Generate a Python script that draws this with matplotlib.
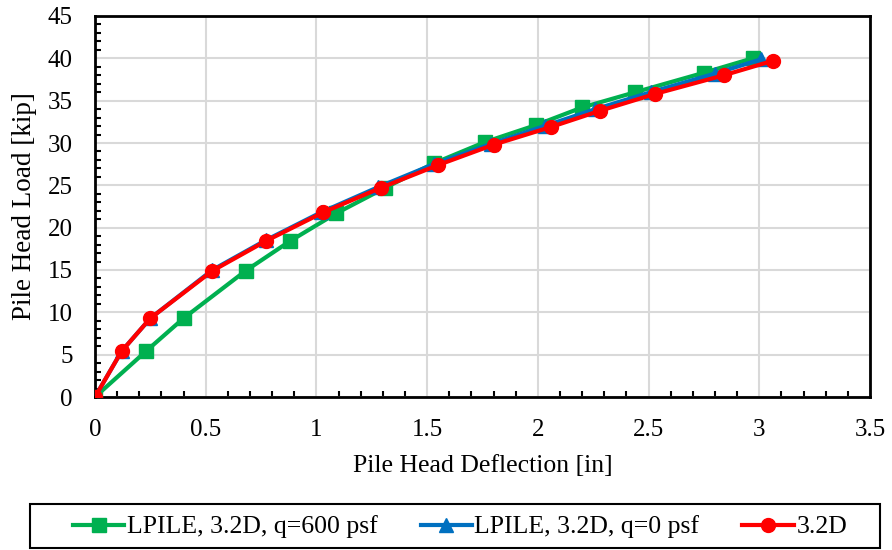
import matplotlib.pyplot as plt
from matplotlib.ticker import MultipleLocator
from matplotlib.patches import Rectangle

plt.rcParams['font.family'] = ['Liberation Serif', 'DejaVu Serif']

# LPILE, 3.2D, q=600 psf
defl_600 = [0, 0.23, 0.40, 0.68, 0.88, 1.09, 1.31, 1.53, 1.76, 1.99, 2.20, 2.44, 2.75, 2.97]
load_600 = [0, 5.4, 9.3, 14.9, 18.4, 21.7, 24.7, 27.6, 30.1, 32.1, 34.2, 36.0, 38.3, 40.0]
# LPILE, 3.2D, q=0 psf
defl_0 = [0, 0.12, 0.25, 0.53, 0.77, 1.02, 1.28, 1.53, 1.79, 2.03, 2.26, 2.51, 2.80, 3.01]
load_0 = [0, 5.4, 9.3, 15.0, 18.5, 21.8, 24.8, 27.5, 29.9, 32.0, 34.0, 36.0, 38.2, 39.9]
# 3.2D
defl_32 = [0, 0.12, 0.25, 0.53, 0.77, 1.03, 1.29, 1.55, 1.80, 2.06, 2.28, 2.53, 2.84, 3.06]
load_32 = [0, 5.4, 9.3, 14.9, 18.4, 21.8, 24.7, 27.4, 29.8, 31.9, 33.8, 35.8, 38.0, 39.7]

xticks = [0, 0.5, 1, 1.5, 2, 2.5, 3, 3.5]
xticklabels = ['0', '0.5', '1', '1.5', '2', '2.5', '3', '3.5']

fig = plt.figure(figsize=(8.92, 5.5), dpi=100)
ax = fig.add_axes([95 / 892, 1 - 397 / 550, 775 / 892, 381 / 550])

ax.plot(defl_600, load_600, color='#00B050', lw=3, marker='s', ms=10,
        label='LPILE, 3.2D, q=600 psf', zorder=3)
ax.plot(defl_0, load_0, color='#0070C0', lw=3, marker='^', ms=10,
        label='LPILE, 3.2D, q=0 psf', zorder=4)
ax.plot(defl_32, load_32, color='#FF0000', lw=3, marker='o', ms=10,
        label='3.2D', zorder=5)

ax.set_xlim(0, 3.5)
ax.set_ylim(0, 45)
ax.set_xticks(xticks)
ax.set_xticklabels(xticklabels)
ax.xaxis.set_minor_locator(MultipleLocator(0.1))
ax.yaxis.set_major_locator(MultipleLocator(5))
ax.yaxis.set_minor_locator(MultipleLocator(1))

ax.tick_params(which='both', direction='in', width=1.5, labelsize=18, pad=16)
ax.tick_params(which='major', length=0)
ax.tick_params(which='minor', length=4)
ax.grid(True, which='major', color='#d9d9d9', lw=1.5)
ax.set_axisbelow(True)
for s in ax.spines.values():
    s.set_linewidth(2)

ax.set_xlabel('Pile Head Deflection [in]', fontsize=18.5, labelpad=10)
ax.set_ylabel('Pile Head Load [kip]', fontsize=19.5, labelpad=8)

leg = fig.legend(loc='center', bbox_to_anchor=(55 / 892, 3 / 550, 810 / 892, 40 / 550),
                 mode='expand', ncol=3, fontsize=18.5, frameon=False,
                 handlelength=2.0, handletextpad=0.1, borderpad=0.2)
fig.patches.append(Rectangle((30 / 892, 2 / 550), 850 / 892, 44 / 550,
                             transform=fig.transFigure, fill=False,
                             edgecolor='black', lw=1.5))

fig.savefig('out.png', dpi=100)
